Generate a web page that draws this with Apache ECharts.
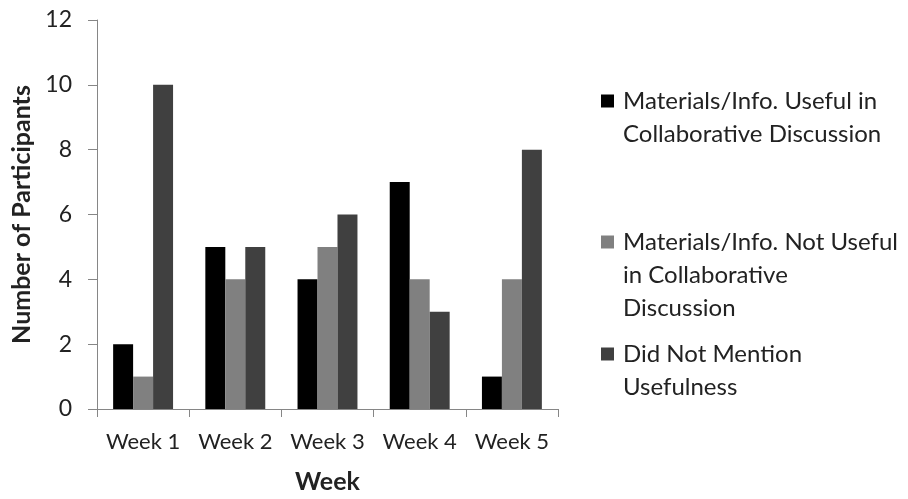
<!DOCTYPE html>
<html>
<head>
<meta charset="utf-8">
<script src="https://cdn.jsdelivr.net/npm/echarts@6/dist/echarts.min.js"></script>
<style>
  html, body { margin: 0; padding: 0; background: #fff; }
  #chart { width: 908px; height: 499px; }
</style>
</head>
<body>
<div id="chart"></div>
<script>
// chart data
var weeks = ['Week 1', 'Week 2', 'Week 3', 'Week 4', 'Week 5'];
var seriesNames = [
  'Materials/Info. Useful in Collaborative Discussion',
  'Materials/Info. Not Useful in Collaborative Discussion',
  'Did Not Mention Usefulness'
];
// legend text split into lines like the original
var legendLines = [
  ['Materials/Info. Useful in', 'Collaborative Discussion'],
  ['Materials/Info. Not Useful', 'in Collaborative', 'Discussion'],
  ['Did Not Mention', 'Usefulness']
];
var useful = [2, 5, 4, 7, 1];
var notUseful = [1, 4, 5, 4, 4];
var notMentioned = [10, 5, 6, 3, 8];
var colors = ['#000000', '#808080', '#404040'];

var font = 'Lato, "Open Sans", sans-serif';
var lh = 33;
var legendIconY = [101, 242, 354];

var mychart = echarts.init(document.getElementById('chart'));

var legends = seriesNames.map(function (name, i) {
  var n = legendLines[i].length;
  // pad with empty lines on top so the icon sits at the first text line
  var pad = new Array(n).join('\n');
  return {
    show: true,
    data: [name],
    orient: 'vertical',
    left: 601,
    top: legendIconY[i] - (2 * n - 1) * lh / 2,
    itemWidth: 13,
    itemHeight: 13,
    itemGap: 0,
    icon: 'rect',
    padding: 0,
    selectedMode: false,
    formatter: function () { return pad + legendLines[i].join('\n'); },
    textStyle: { fontFamily: font, fontSize: 24, color: '#222', lineHeight: lh, padding: [0, 0, 0, 4] }
  };
});

mychart.setOption({
  animation: false,
  color: colors,
  grid: { left: 97, right: 350, top: 20, bottom: 89 },
  legend: legends,
  xAxis: {
    type: 'category',
    data: weeks,
    name: 'Week',
    nameLocation: 'middle',
    nameGap: 60,
    nameTextStyle: { fontFamily: font, fontSize: 25, fontWeight: 'bold', color: '#222' },
    axisLine: { lineStyle: { color: '#868686', width: 1 } },
    axisTick: { show: true, length: 8, lineStyle: { color: '#868686' } },
    axisLabel: { interval: 0, hideOverlap: false, fontFamily: font, fontSize: 22, color: '#222', margin: 22 }
  },
  yAxis: {
    type: 'value',
    min: 0,
    max: 12,
    interval: 2,
    name: 'Number of Participants',
    nameLocation: 'middle',
    nameGap: 63,
    nameTextStyle: { fontFamily: font, fontSize: 25, fontWeight: 'bold', color: '#222' },
    axisLine: { show: true, lineStyle: { color: '#868686', width: 1 } },
    axisTick: { show: true, length: 9, lineStyle: { color: '#868686' } },
    axisLabel: { fontFamily: font, fontSize: 23, color: '#222', margin: 25 },
    splitLine: { show: false }
  },
  series: [
    { name: seriesNames[0], type: 'bar', data: useful, barGap: '0%', barCategoryGap: '35%' },
    { name: seriesNames[1], type: 'bar', data: notUseful, barGap: '0%', barCategoryGap: '35%' },
    { name: seriesNames[2], type: 'bar', data: notMentioned, barGap: '0%', barCategoryGap: '35%' }
  ]
});
</script>
</body>
</html>
